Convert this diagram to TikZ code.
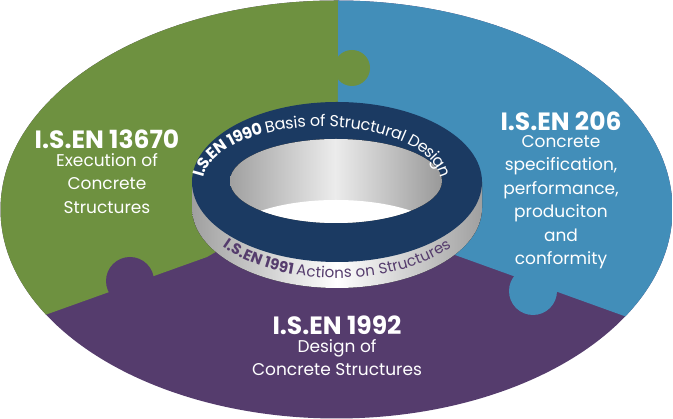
\documentclass[tikz,border=0pt]{standalone}
\usepackage{fontspec}
\setmainfont{Poppins}
\usepackage{tikz}
\usetikzlibrary{decorations.text}
\definecolor{pgreen}{HTML}{6E9140}
\definecolor{pblue}{HTML}{428EB9}
\definecolor{ppurple}{HTML}{553C6D}
\definecolor{ringblue}{HTML}{1B3A62}
\tikzset{
  big/.style={text=white, font=\fontsize{25}{27}\selectfont\bfseries},
  small/.style={text=white, font=\fontsize{17}{23.5}\selectfont\mdseries, align=center, inner sep=1pt}
}
\begin{document}
\begin{tikzpicture}[x=1pt, y=1pt]
\useasboundingbox (0,0) rectangle (673,419);
% puzzle pieces
\begin{scope}
\clip (336.5,209.5) ellipse [x radius=336, y radius=209];
\fill[ppurple] (0,0) rectangle (673,419);
\fill[pgreen] (338,430) -- (338,371) -- (338,333) -- (337,237) -- (207,162)
  -- (45,104) -- (-10,84) -- (-10,430) -- cycle;
\fill[pblue] (338,430) -- (338,371) -- (338,333) -- (337,237) -- (455,164)
  -- (627,102) -- (690,79) -- (690,430) -- cycle;
\fill[pgreen] (352,351) circle (18);
\fill[ppurple] (130,138) circle (24);
\fill[pblue] (533,128) circle (24);
\end{scope}
% ring
\fill[left color=gray!75, right color=gray!75, middle color=white]
  (192,237) -- (192,211) arc[start angle=180, end angle=360, x radius=145, y radius=80]
  -- (482,237) -- cycle;
\fill[ringblue] (337,237) ellipse [x radius=145, y radius=80];
\begin{scope}
\clip (336,238) ellipse [x radius=106, y radius=42];
\fill[left color=gray!80, right color=gray!85, middle color=gray!15] (220,180) rectangle (450,290);
\fill[white] (336,177) ellipse [x radius=112, y radius=42];
\end{scope}
% texts on ring
\path[postaction={decorate}, decoration={text along path, text align=center, raise=-6pt,
  text color=white,
  text={|\fontsize{16}{16}\selectfont\bfseries|I.S.EN 1990 |\fontsize{16}{16}\selectfont\mdseries|Basis of Structural Design}}]
  (208.6,210.3) arc[start angle=205, end angle=-25, x radius=125, y radius=62];
\path[postaction={decorate}, decoration={text along path, text align=center, raise=-4pt,
  text color=ppurple,
  text={|\fontsize{15}{15}\selectfont\bfseries|I.S.EN 1991 |\fontsize{15}{15}\selectfont\mdseries|Actions on Structures}}]
  (198.9,204.3) arc[start angle=195, end angle=345, x radius=143, y radius=80];
% labels
\node[big] (en13670) at (107,280) {I.S.EN 13670};
\node[small, below=0pt] (exec) at (en13670.south) {Execution of\\Concrete\\Structures};
\node[big] (en206) at (561,298) {I.S.EN 206};
\node[small, below=0pt] (spec) at (en206.south) {Concrete\\specification,\\performance,\\produciton\\and\\conformity};
\node[big] (en1992) at (337,94) {I.S.EN 1992};
\node[small, below=0pt] (design) at (en1992.south) {Design of\\Concrete Structures};
\end{tikzpicture}
\end{document}
